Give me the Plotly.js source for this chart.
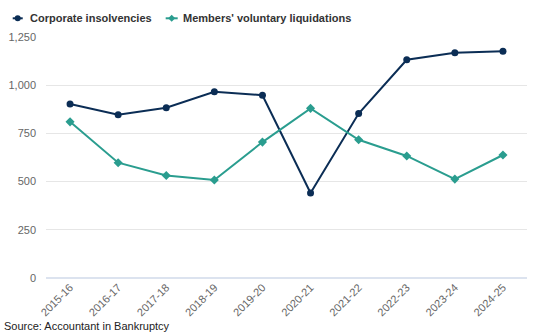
<!DOCTYPE html>
<html>
<head>
<meta charset="utf-8">
<script src="https://cdn.plot.ly/plotly-3.0.1.min.js"></script>
<style>html,body{margin:0;padding:0;background:#fff;}#chart{width:534px;height:332px;}</style>
</head>
<body>
<div id="chart"></div>
<script>
const years = ["2015-16","2016-17","2017-18","2018-19","2019-20","2020-21","2021-22","2022-23","2023-24","2024-25"];
const seriesNames = ["Corporate insolvencies", "Members' voluntary liquidations"];
const corporateInsolvencies = [902, 847, 883, 966, 948, 441, 853, 1132, 1168, 1176];
const membersVoluntaryLiquidations = [810, 598, 532, 508, 705, 880, 717, 633, 513, 638];
const yTicks = [0, 250, 500, 750, 1000, 1250];
const yTickLabels = ["0", "250", "500", "750", "1,000", "1,250"];
const sourceText = "Source: Accountant in Bankruptcy";

const navy = "#0b2d55";
const teal = "#2a9d8f";

const traces = [
  {
    x: years, y: corporateInsolvencies, name: seriesNames[0],
    type: "scatter", mode: "lines+markers", showlegend: false,
    line: {color: navy, width: 2},
    marker: {color: navy, size: 7, symbol: "circle"}
  },
  {
    x: years, y: membersVoluntaryLiquidations, name: seriesNames[1],
    type: "scatter", mode: "lines+markers", showlegend: false,
    line: {color: teal, width: 2},
    marker: {color: teal, size: 7, symbol: "diamond"}
  }
];

// custom legend (paper coords; plot area is 481x241 px starting at 46,37)
const legY = 1.0776;
const leg1X = -0.0588, leg2X = 0.2613;
const legendShapes = [
  {type: "line", xref: "paper", yref: "paper", xsizemode: "pixel", ysizemode: "pixel",
   xanchor: leg1X, yanchor: legY, x0: -5, x1: 5, y0: 0, y1: 0, line: {color: navy, width: 2}},
  {type: "circle", xref: "paper", yref: "paper", xsizemode: "pixel", ysizemode: "pixel",
   xanchor: leg1X, yanchor: legY, x0: -3, x1: 3, y0: -3, y1: 3, fillcolor: navy, line: {color: navy, width: 0}},
  {type: "line", xref: "paper", yref: "paper", xsizemode: "pixel", ysizemode: "pixel",
   xanchor: leg2X, yanchor: legY, x0: -6, x1: 6, y0: 0, y1: 0, line: {color: teal, width: 2}},
  {type: "path", xref: "paper", yref: "paper", xsizemode: "pixel", ysizemode: "pixel",
   xanchor: leg2X, yanchor: legY, path: "M -3.5 0 L 0 3.5 L 3.5 0 L 0 -3.5 Z", fillcolor: teal, line: {color: teal, width: 0}}
];

const layout = {
  width: 534, height: 332,
  margin: {l: 46, r: 7, t: 37, b: 54},
  paper_bgcolor: "#fff", plot_bgcolor: "#fff",
  font: {family: "Liberation Sans, Arial, sans-serif", size: 11, color: "#666"},
  showlegend: false,
  xaxis: {
    type: "category", range: [-0.5, 9.5],
    tickangle: -45, showgrid: false, zeroline: false, showline: false,
    ticks: "", tickfont: {size: 11, color: "#666"}
  },
  yaxis: {
    range: [0, 1250], tickvals: yTicks, ticktext: yTickLabels,
    showgrid: true, gridcolor: "#e6e6e6", gridwidth: 1,
    zeroline: true, zerolinecolor: "#dce3ef", zerolinewidth: 2,
    showline: false, ticks: "", ticklabelstandoff: 9, tickfont: {size: 11, color: "#666"}
  },
  shapes: legendShapes,
  annotations: [
    {text: seriesNames[0], xref: "paper", yref: "paper", x: -0.0384, y: legY,
     xanchor: "left", yanchor: "middle", showarrow: false,
     font: {size: 11, color: "#333", weight: "bold"}},
    {text: seriesNames[1], xref: "paper", yref: "paper", x: 0.2817, y: legY,
     xanchor: "left", yanchor: "middle", showarrow: false,
     font: {size: 11, color: "#333", weight: "bold"}},
    {text: sourceText, xref: "paper", yref: "paper", x: -0.092, y: -0.2,
     xanchor: "left", yanchor: "middle", showarrow: false,
     font: {size: 11, color: "#222"}}
  ]
};

Plotly.newPlot("chart", traces, layout, {displayModeBar: false, staticPlot: true});
</script>
</body>
</html>
